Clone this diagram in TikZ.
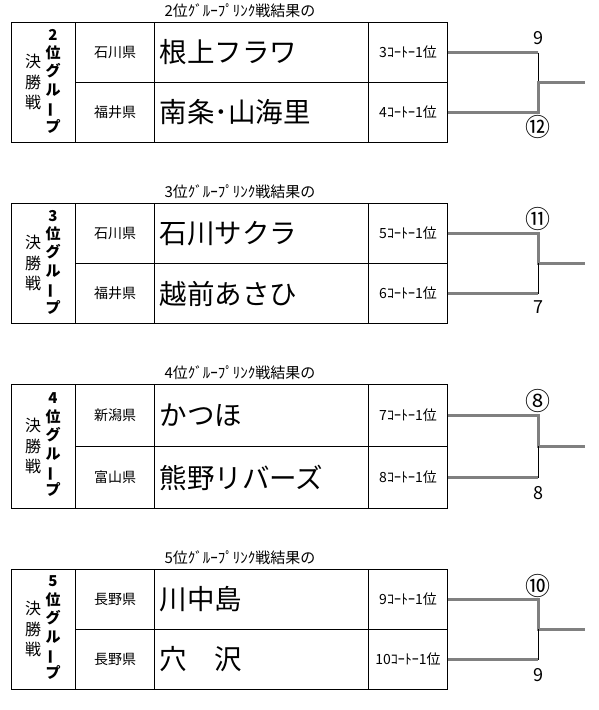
\documentclass[tikz,border=0pt]{standalone}
\usepackage{fontspec}
\setmainfont{Noto Sans CJK JP}
\usetikzlibrary{positioning}
\definecolor{bracketgray}{HTML}{808080}
\tikzset{
  cell/.style={draw,line width=1pt,inner sep=0pt,anchor=north west,minimum height=60pt},
  side/.style={cell,minimum width=64pt,minimum height=120pt},
  pref/.style={cell,minimum width=79pt,font=\fontsize{14}{16}\selectfont},
  team/.style={cell,minimum width=214pt,text width=204pt,align=left,
    font=\fontsize{27.5}{30}\selectfont},
  court/.style={cell,minimum width=79pt,font=\fontsize{14}{16}\selectfont},
  heading/.style={inner sep=0pt,font=\fontsize{15}{17}\selectfont},
  final/.style={align=center,inner sep=0pt,font=\fontsize{16}{20.5}\selectfont},
  grouplabel/.style={align=center,inner sep=0pt,font=\fontsize{15}{18.4}\selectfont\bfseries},
  seed/.style={inner sep=0pt,font=\fontsize{18}{20}\selectfont},
  ringseed/.style={seed,font=\fontsize{25}{27}\selectfont},
  bracket/.style={draw=bracketgray,line width=3pt},
  stub/.style={draw=black,line width=1pt}
}
\newcommand{\tatebar}{\rotatebox[origin=c]{90}{ー}}

\begin{document}
\begin{tikzpicture}[x=1pt,y=-1pt]
  \useasboundingbox (0,0) rectangle (599,710);

  % 2nd place group
  \node[heading] (t2) at (240,11) {2位ｸﾞﾙｰﾌﾟﾘﾝｸ戦結果の};
  \node[side] (g2) at (11,22) {};
  \node[final] (f2) at (33,82) {決\\勝\\戦};
  \node[grouplabel] (r2) at (53,81) {2\\位\\グ\\ル\\\tatebar\\プ};
  \node[pref] (p2a) at (75,22) {石川県};
  \node[pref] (p2b) at (75,82) {福井県};
  \node[team] (n2a) at (154,22) {根上フラワ};
  \node[team] (n2b) at (154,82) {南条･山海里};
  \node[court] (c2a) at (368,22) {3ｺｰﾄｰ1位};
  \node[court] (c2b) at (368,82) {4ｺｰﾄｰ1位};
  \coordinate (j2) at (538,82);
  \coordinate (o2) at (585,82);
  \draw[bracket] (c2a.east) -- (c2a.east -| j2);
  \draw[stub] (c2a.east -| j2) -- (j2);
  \draw[bracket] (c2b.east) -| (j2) -- (o2);
  \node[seed] (s2a) at (538,38) {9};
  \node[ringseed] (s2b) at (538,127) {⑫};

  % 3rd place group
  \node[heading] (t3) at (240,192) {3位ｸﾞﾙｰﾌﾟﾘﾝｸ戦結果の};
  \node[side] (g3) at (11,203) {};
  \node[final] (f3) at (33,263) {決\\勝\\戦};
  \node[grouplabel] (r3) at (53,262) {3\\位\\グ\\ル\\\tatebar\\プ};
  \node[pref] (p3a) at (75,203) {石川県};
  \node[pref] (p3b) at (75,263) {福井県};
  \node[team] (n3a) at (154,203) {石川サクラ};
  \node[team] (n3b) at (154,263) {越前あさひ};
  \node[court] (c3a) at (368,203) {5ｺｰﾄｰ1位};
  \node[court] (c3b) at (368,263) {6ｺｰﾄｰ1位};
  \coordinate (j3) at (538,263);
  \coordinate (o3) at (585,263);
  \draw[bracket] (c3a.east) -| (j3) -- (o3);
  \draw[bracket] (c3b.east) -- (c3b.east -| j3);
  \draw[stub] (c3b.east -| j3) -- (j3);
  \node[ringseed] (s3a) at (538,219) {⑪};
  \node[seed] (s3b) at (538,307) {7};

  % 4th place group
  \node[heading] (t4) at (240,373) {4位ｸﾞﾙｰﾌﾟﾘﾝｸ戦結果の};
  \node[side,minimum height=124pt] (g4) at (11,384) {};
  \node[final] (f4) at (33,446) {決\\勝\\戦};
  \node[grouplabel] (r4) at (53,445) {4\\位\\グ\\ル\\\tatebar\\プ};
  \node[pref,minimum height=62pt] (p4a) at (75,384) {新潟県};
  \node[pref,minimum height=62pt] (p4b) at (75,446) {富山県};
  \node[team,minimum height=62pt] (n4a) at (154,384) {かつほ};
  \node[team,minimum height=62pt] (n4b) at (154,446) {熊野リバーズ};
  \node[court,minimum height=62pt] (c4a) at (368,384) {7ｺｰﾄｰ1位};
  \node[court,minimum height=62pt] (c4b) at (368,446) {8ｺｰﾄｰ1位};
  \coordinate (j4) at (538,446);
  \coordinate (o4) at (585,446);
  \draw[bracket] (c4a.east) -| (j4) -- (o4);
  \draw[bracket] (c4b.east) -- (c4b.east -| j4);
  \draw[stub] (c4b.east -| j4) -- (j4);
  \node[ringseed] (s4a) at (538,401) {⑧};
  \node[seed] (s4b) at (538,493) {8};

  % 5th place group
  \node[heading] (t5) at (240,558) {5位ｸﾞﾙｰﾌﾟﾘﾝｸ戦結果の};
  \node[side] (g5) at (11,569) {};
  \node[final] (f5) at (33,629) {決\\勝\\戦};
  \node[grouplabel] (r5) at (53,628) {5\\位\\グ\\ル\\\tatebar\\プ};
  \node[pref] (p5a) at (75,569) {長野県};
  \node[pref] (p5b) at (75,629) {長野県};
  \node[team] (n5a) at (154,569) {川中島};
  \node[team] (n5b) at (154,629) {穴　沢};
  \node[court] (c5a) at (368,569) {9ｺｰﾄｰ1位};
  \node[court] (c5b) at (368,629) {10ｺｰﾄｰ1位};
  \coordinate (j5) at (538,629);
  \coordinate (o5) at (585,629);
  \draw[bracket] (c5a.east) -| (j5) -- (o5);
  \draw[bracket] (c5b.east) -- (c5b.east -| j5);
  \draw[stub] (c5b.east -| j5) -- (j5);
  \node[ringseed] (s5a) at (538,586) {⑩};
  \node[seed] (s5b) at (538,675) {9};
\end{tikzpicture}
\end{document}
